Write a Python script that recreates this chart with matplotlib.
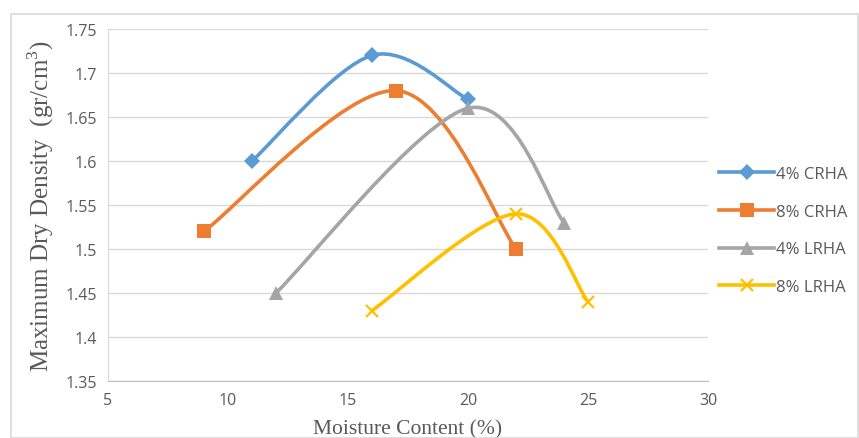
import numpy as np
import matplotlib
matplotlib.use("Agg")
from matplotlib import pyplot as plt
from matplotlib.path import Path
from matplotlib.patches import PathPatch, Rectangle
from matplotlib.lines import Line2D

# data
moisture_4crha = [11, 16, 20]
density_4crha = [1.60, 1.72, 1.67]
moisture_8crha = [9, 17, 22]
density_8crha = [1.52, 1.68, 1.50]
moisture_4lrha = [12, 20, 24]
density_4lrha = [1.45, 1.66, 1.53]
moisture_8lrha = [16, 22, 25]
density_8lrha = [1.43, 1.54, 1.44]

series_names = ['4% CRHA', '8% CRHA', '4% LRHA', '8% LRHA']
series_x = [moisture_4crha, moisture_8crha, moisture_4lrha, moisture_8lrha]
series_y = [density_4crha, density_8crha, density_4lrha, density_8lrha]
colors = ['#5B9BD5', '#ED7D31', '#A5A5A5', '#FFC000']
markers = ['D', 's', '^', 'x']
msizes = [8, 10, 10, 9]

def smooth_path(x, y):
  # excel-like smoothed line: cubic bezier through the points
  pts = np.column_stack([x, y]).astype(float)
  n = len(pts)
  verts = [pts[0]]
  codes = [Path.MOVETO]
  for i in range(n - 1):
    p0 = pts[i - 1] if i > 0 else pts[i]
    p1 = pts[i]
    p2 = pts[i + 1]
    p3 = pts[i + 2] if i + 2 < n else pts[i + 1]
    c1 = p1 + (p2 - p0) / 6.0
    c2 = p2 - (p3 - p1) / 6.0
    verts += [c1, c2, p2]
    codes += [Path.CURVE4] * 3
  return Path(verts, codes)

fig = plt.figure(figsize=(8.59, 4.39), dpi=100)
fig.patches.append(Rectangle((11/859, 0), 847/859, 1 - 15/439, transform=fig.transFigure,
                             fill=False, edgecolor='#d9d9d9', linewidth=1.2))
ax = fig.add_axes([108/859, 1 - 382/439, 600/859, 352/439])

handles = []
for x, y, c, m, ms, name in zip(series_x, series_y, colors, markers, msizes, series_names):
  ax.add_patch(PathPatch(smooth_path(x, y), fill=False, edgecolor=c, linewidth=2.6,
                         capstyle='round', zorder=3))
  mew = 1.6 if m == 'x' else 0
  ax.plot(x, y, linestyle='none', marker=m, markersize=ms, color=c,
          markeredgewidth=mew, zorder=4)
  handles.append(Line2D([], [], color=c, linewidth=2.6, marker=m, markersize=ms,
                        markeredgewidth=mew, label=name))

ax.set_xlim(5, 30)
ax.set_ylim(1.35, 1.75)
ax.set_xticks(np.arange(5, 31, 5))
ax.set_yticks(np.arange(1.35, 1.751, 0.05))
ax.set_yticklabels(['1.35', '1.4', '1.45', '1.5', '1.55', '1.6', '1.65', '1.7', '1.75'])
ax.grid(axis='y', color='#d9d9d9', linewidth=1.0)
ax.set_axisbelow(True)
for s in ['top', 'right']:
  ax.spines[s].set_visible(False)
ax.spines['left'].set_color('#d9d9d9')
ax.spines['bottom'].set_color('#bfbfbf')
ax.tick_params(length=0, labelsize=11.5, labelcolor='#595959', pad=8)
for lab in ax.get_xticklabels() + ax.get_yticklabels():
  lab.set_family('Open Sans')

ax.set_xlabel('Moisture Content (%)', family='Liberation Serif', fontsize=15.5,
              color='#595959', labelpad=8)
ax.set_ylabel('Maximum Dry Density  (gr/cm$^{\\mathregular{3}}$)', family='Liberation Serif',
              fontsize=18, color='#595959', labelpad=7)

leg = fig.legend(handles=handles, loc='upper left', bbox_to_anchor=(704/859, 1 - 152/439),
                 frameon=False, handlelength=3.3, labelspacing=1.3,
                 handletextpad=0.15, prop={'family': 'Open Sans', 'size': 12})
for t in leg.get_texts():
  t.set_color('#595959')

fig.savefig('out.png', dpi=100)
